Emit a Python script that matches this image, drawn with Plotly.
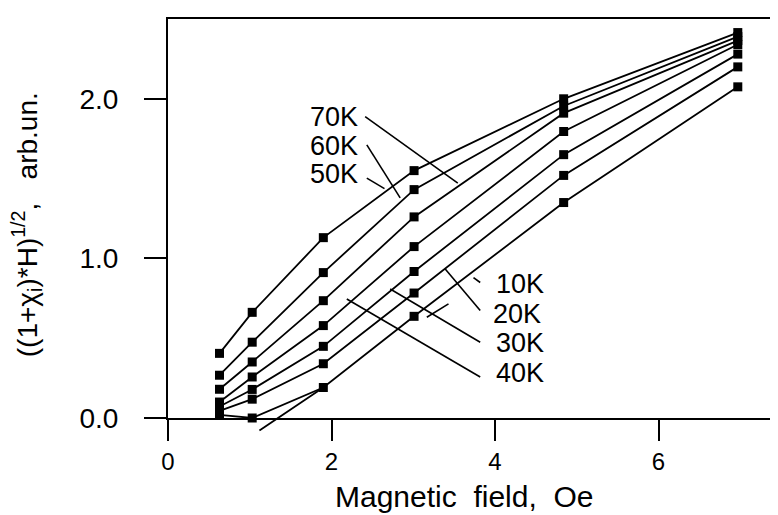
import plotly.graph_objects as go

# ---- data ----
field = [0.63, 1.03, 1.9, 3.01, 4.84, 6.97]          # Magnetic field, Oe

# curves listed from top to bottom, named by their leader labels
y_50K = [0.405, 0.662, 1.13, 1.55, 2.00, 2.415]
y_60K = [0.268, 0.475, 0.911, 1.431, 1.955, 2.39]
y_70K = [0.180, 0.351, 0.735, 1.26, 1.91, 2.365]
y_40K = [0.100, 0.257, 0.579, 1.074, 1.795, 2.34]
y_30K = [0.072, 0.179, 0.449, 0.918, 1.65, 2.28]
y_20K = [0.045, 0.118, 0.340, 0.783, 1.52, 2.20]
y_10K = [0.020, 0.000, 0.191, 0.637, 1.35, 2.075]

curves = [y_50K, y_60K, y_70K, y_40K, y_30K, y_20K, y_10K]

# extrapolated straight segment of the lowest curve (runs below the axis)
extrap_field = [1.10, 1.9]
extrap_value = [-0.085, 0.191]

# curve labels
label_text = ["70K", "60K", "50K", "10K", "20K", "30K", "40K"]
label_x = [2.034, 2.034, 2.034, 4.30, 4.275, 4.30, 4.31]
label_y = [1.888, 1.704, 1.526, 0.841, 0.654, 0.467, 0.280]

# leader lines (start near the label, end on / near the curve)
leader_x_start = [2.412, 2.432, 2.432, 3.819, 3.819, 3.819, 3.431, 3.819]
leader_y_start = [1.888, 1.711, 1.503, 0.673, 0.475, 0.257, 0.715, 0.849]
leader_x_end = [3.545, 2.840, 2.648, 3.391, 2.718, 2.187, 3.166, 3.737]
leader_y_end = [1.472, 1.379, 1.437, 0.933, 0.808, 0.746, 0.631, 0.880]

x_ticks = [0, 2, 4, 6]
y_ticks = [0.0, 1.0, 2.0]

FONT = "Liberation Sans"

fig = go.Figure()

for ys in curves:
    fig.add_trace(go.Scatter(
        x=field, y=ys, mode="lines+markers",
        line=dict(color="black", width=1.8),
        marker=dict(symbol="square", size=9, color="black"),
        cliponaxis=False, showlegend=False, hoverinfo="skip"))

# leader lines as one trace with gaps
lx, ly = [], []
for xs, ys, xe, ye in zip(leader_x_start, leader_y_start, leader_x_end, leader_y_end):
    lx += [xs, xe, None]
    ly += [ys, ye, None]
fig.add_trace(go.Scatter(x=lx, y=ly, mode="lines",
                         line=dict(color="black", width=1.6),
                         showlegend=False, hoverinfo="skip"))

annotations = []
for t, x, y in zip(label_text, label_x, label_y):
    annotations.append(dict(x=x, y=y, xref="x", yref="y", text=t, showarrow=False,
                            xanchor="center", yanchor="middle",
                            font=dict(family=FONT, size=27, color="black")))

# extrapolated line: drawn as an arrow-only annotation so it is not clipped at y=0
annotations.append(dict(x=extrap_field[1], y=extrap_value[1], xref="x", yref="y",
                        ax=extrap_field[0], ay=extrap_value[0], axref="x", ayref="y",
                        text="", showarrow=True, arrowhead=0, arrowwidth=1.8,
                        arrowcolor="black", standoff=0, startstandoff=0))

# axis titles
annotations.append(dict(x=0.4876, y=-0.197, xref="paper", yref="paper",
                        text="Magnetic\u00a0\u00a0field,\u00a0\u00a0Oe", showarrow=False,
                        xanchor="center", yanchor="middle",
                        font=dict(family=FONT, size=30, color="black")))
annotations.append(dict(x=-0.2323, y=0.4857, xref="paper", yref="paper",
                        text="((1+\u03c7<sub>i</sub>)*H)<sup>1/2</sup>,\u00a0\u00a0\u00a0arb.un.",
                        showarrow=False, textangle=-90,
                        xanchor="center", yanchor="middle",
                        font=dict(family=FONT, size=28, color="black")))

fig.update_layout(
    width=778, height=515,
    margin=dict(l=160, r=11, t=9, b=105),
    paper_bgcolor="white", plot_bgcolor="white",
    annotations=annotations,
    xaxis=dict(range=[0, 7.425], tickvals=x_ticks, ticktext=[str(v) for v in x_ticks],
               ticks="outside", ticklen=21, tickwidth=2, tickcolor="black",
               showline=True, linewidth=2, linecolor="black", mirror=True,
               showgrid=False, zeroline=False,
               tickfont=dict(family=FONT, size=24, color="black")),
    yaxis=dict(range=[0, 2.5], tickvals=y_ticks, tickformat=".1f",
               ticks="outside", ticklen=22, tickwidth=2, tickcolor="black",
               showline=True, linewidth=2, linecolor="black", mirror=True,
               showgrid=False, zeroline=False, ticklabelstandoff=20,
               tickfont=dict(family=FONT, size=28, color="black")),
)

fig.write_html("out.html")
